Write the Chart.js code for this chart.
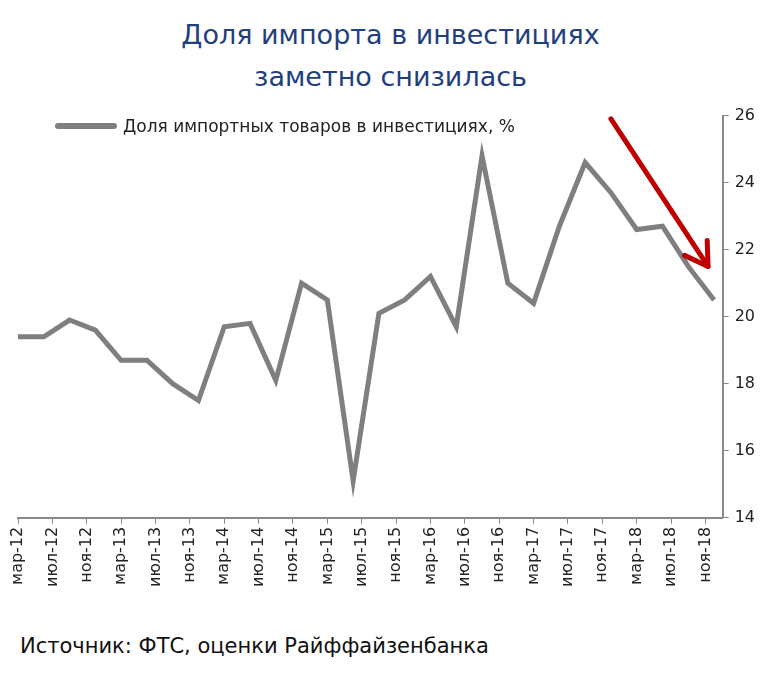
<!DOCTYPE html>
<html><head><meta charset="utf-8">
<script src="https://cdn.jsdelivr.net/npm/chart.js@4"></script>
<style>
body{margin:0;background:#fff;font-family:"DejaVu Sans",sans-serif;width:781px;height:673px;position:relative;overflow:hidden}
#title{position:absolute;top:14px;left:0;width:781px;text-align:center;color:#1f3f7f;font-size:27px;line-height:42px}
#wrap{position:absolute;left:0;top:100px;width:781px;height:490px}
#legend{position:absolute;left:55px;top:116px;font-size:17px;color:#222;display:flex;align-items:center}
#legend span{display:inline-block;width:62px;height:6px;background:#7f7f7f;margin-right:6px;border-radius:3px}
#src{position:absolute;left:20px;top:634px;font-size:21px;color:#111}
</style></head><body>
<div id="title">Доля импорта в инвестициях<br>заметно снизилась</div>
<div id="wrap"><canvas id="chart"></canvas></div>
<div id="legend"><span></span>Доля импортных товаров в инвестициях, %</div>
<div id="src">Источник: ФТС, оценки Райффайзенбанка</div>
<script>
// месяцы от мар-12 (0), квартальные точки
const months = [0,3,6,9,12,15,18,21,24,27,30,33,36,39,42,45,48,51,54,57,60,63,66,69,72,75,78,81];
const values = [19.4,19.4,19.9,19.6,18.7,18.7,18.0,17.5,19.7,19.8,18.1,21.0,20.5,15.1,20.1,20.5,21.2,19.7,24.8,21.0,20.4,22.7,24.6,23.7,22.6,22.7,21.5,20.5];
const tickLabels = ['мар-12','июл-12','ноя-12','мар-13','июл-13','ноя-13','мар-14','июл-14','ноя-14','мар-15','июл-15','ноя-15','мар-16','июл-16','ноя-16','мар-17','июл-17','ноя-17','мар-18','июл-18','ноя-18'];
const arrowFrom = {x: 69, y: 25.9}, arrowTo = {x: 80.3, y: 21.5};

const arrowPlugin = {
  id: 'arrow',
  afterDatasetsDraw(chart) {
    const {ctx, scales: {x, y}} = chart;
    const x1 = x.getPixelForValue(arrowFrom.x), y1 = y.getPixelForValue(arrowFrom.y);
    const x2 = x.getPixelForValue(arrowTo.x), y2 = y.getPixelForValue(arrowTo.y);
    const a = Math.atan2(y2 - y1, x2 - x1);
    ctx.save();
    ctx.strokeStyle = '#c00000'; ctx.lineWidth = 5; ctx.lineCap = 'round'; ctx.lineJoin = 'round';
    ctx.beginPath(); ctx.moveTo(x1, y1); ctx.lineTo(x2, y2); ctx.stroke();
    ctx.beginPath();
    ctx.moveTo(x2 - 26 * Math.cos(a - 0.55), y2 - 26 * Math.sin(a - 0.55));
    ctx.lineTo(x2, y2);
    ctx.lineTo(x2 - 26 * Math.cos(a + 0.55), y2 - 26 * Math.sin(a + 0.55));
    ctx.stroke();
    ctx.restore();
  }
};

new Chart(document.getElementById('chart'), {
  type: 'line',
  data: {datasets: [{
    data: months.map((m, i) => ({x: m, y: values[i]})),
    borderColor: '#7f7f7f', borderWidth: 5, pointRadius: 0, tension: 0, fill: false
  }]},
  options: {
    responsive: true, maintainAspectRatio: false, animation: false,
    layout: {padding: {top: 15, left: 18, right: 20}},
    plugins: {legend: {display: false}, tooltip: {enabled: false}},
    scales: {
      x: {
        type: 'linear', min: 0, max: 82,
        afterBuildTicks: (s) => { s.ticks = tickLabels.map((_, i) => ({value: i * 4})); },
        ticks: {
          autoSkip: false, maxRotation: 90, minRotation: 90, color: '#222',
          font: {size: 16, family: 'DejaVu Sans'},
          callback: (v) => tickLabels[v / 4]
        },
        grid: {display: true, drawOnChartArea: false, tickLength: 6, color: '#888'},
        border: {color: '#888', width: 2}
      },
      y: {
        position: 'right', min: 14, max: 26,
        ticks: {stepSize: 2, color: '#222', font: {size: 16, family: 'DejaVu Sans'}, padding: 6},
        grid: {display: true, drawOnChartArea: false, tickLength: 6, color: '#888'},
        border: {color: '#888', width: 2}
      }
    }
  },
  plugins: [arrowPlugin]
});
</script>
</body></html>
